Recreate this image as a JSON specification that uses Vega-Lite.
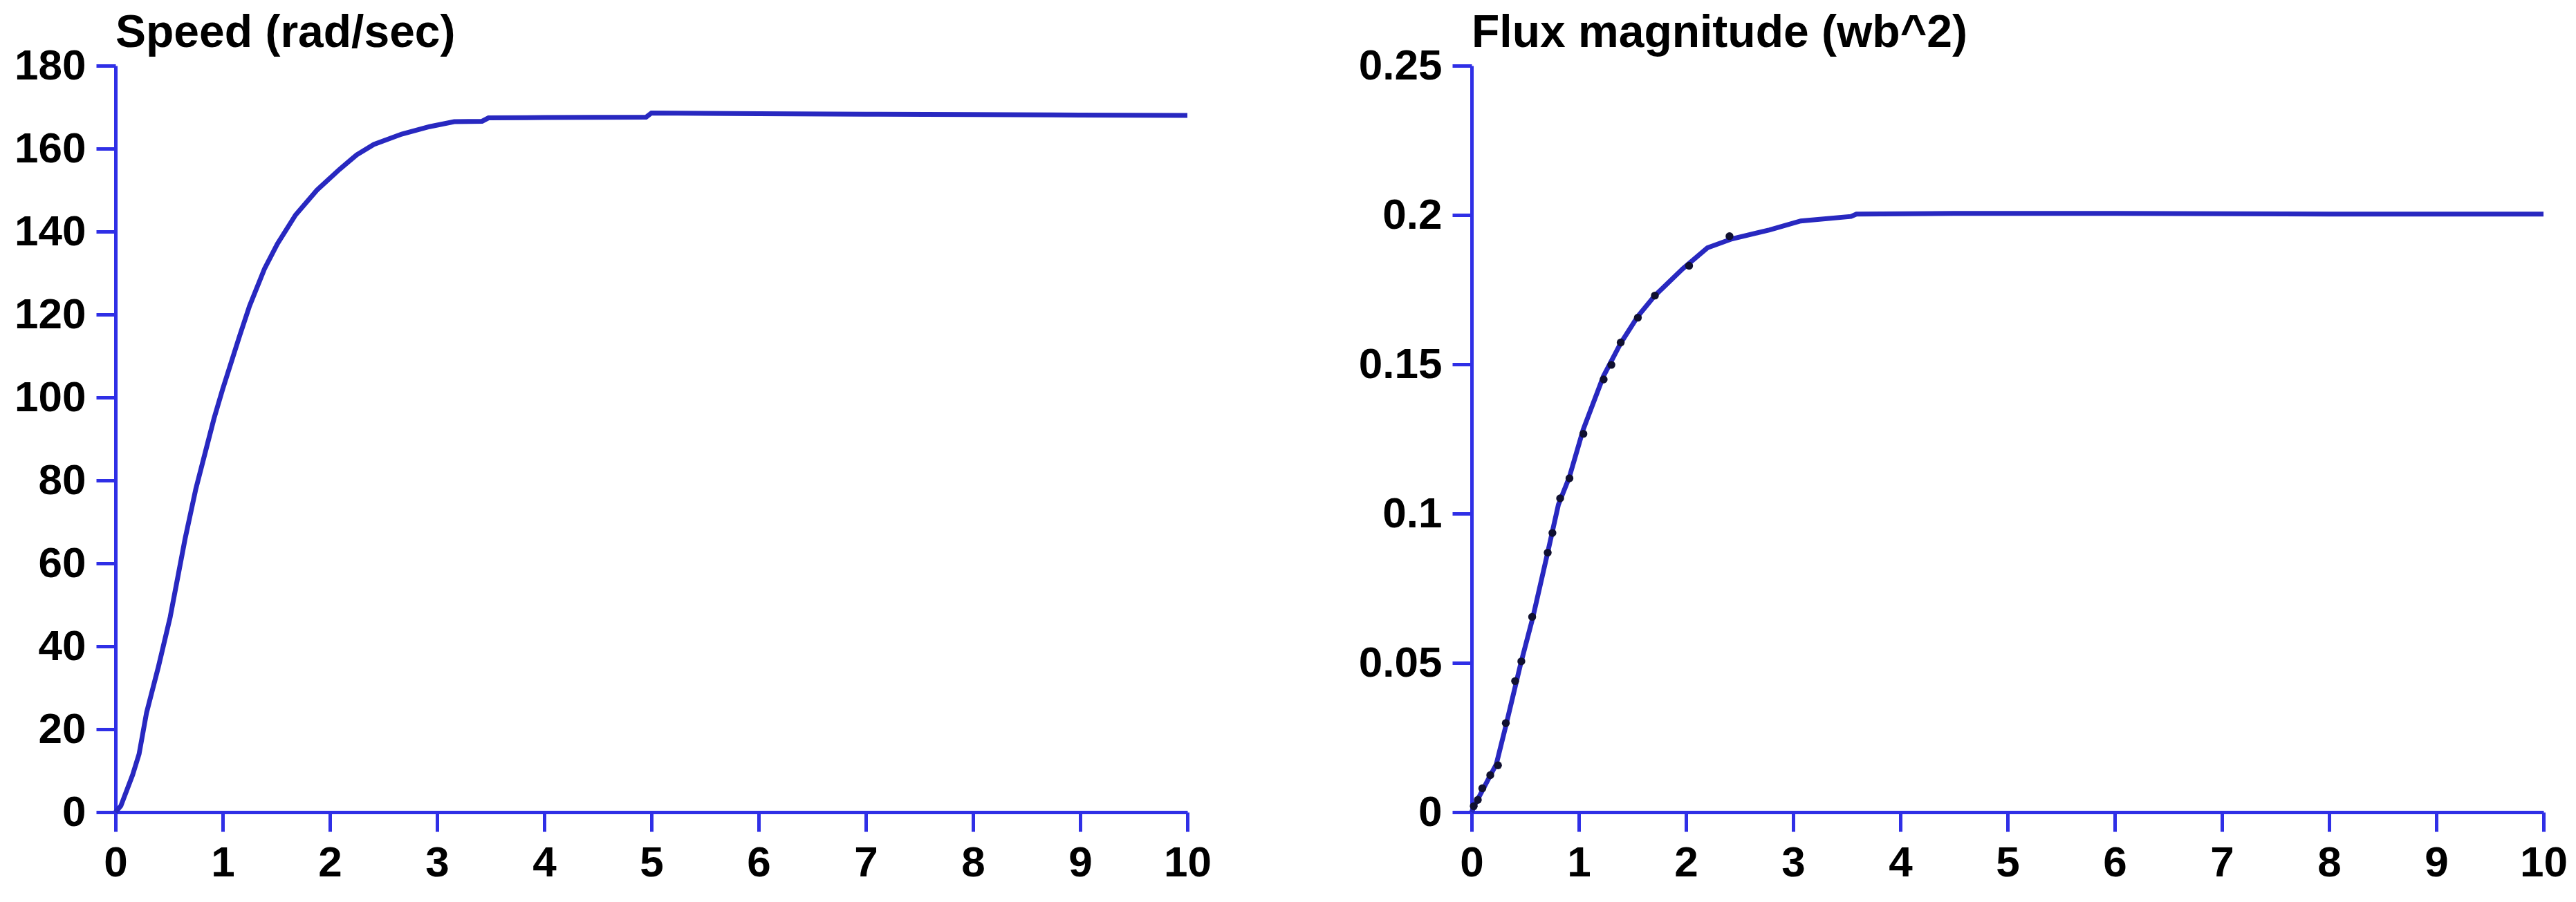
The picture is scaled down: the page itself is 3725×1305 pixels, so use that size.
{
  "$schema": "https://vega.github.io/schema/vega-lite/v6.json",
  "background": "white",
  "padding": {"left": 20, "top": 15, "right": 5, "bottom": 5},
  "bounds": "flush",
  "spacing": 411,
  "datasets": {
    "speed": [
      {"t": 0, "v": 0}, {"t": 0.05, "v": 1.5}, {"t": 0.16, "v": 9}, {"t": 0.22, "v": 14}, {"t": 0.29, "v": 24},
      {"t": 0.4, "v": 35}, {"t": 0.51, "v": 47}, {"t": 0.65, "v": 66}, {"t": 0.75, "v": 78}, {"t": 0.84, "v": 87},
      {"t": 0.92, "v": 95}, {"t": 1.0, "v": 102}, {"t": 1.16, "v": 115}, {"t": 1.25, "v": 122}, {"t": 1.39, "v": 131},
      {"t": 1.51, "v": 137}, {"t": 1.68, "v": 144}, {"t": 1.88, "v": 150}, {"t": 2.09, "v": 155}, {"t": 2.25, "v": 158.5},
      {"t": 2.41, "v": 161}, {"t": 2.67, "v": 163.5}, {"t": 2.93, "v": 165.3}, {"t": 3.16, "v": 166.5}, {"t": 3.42, "v": 166.6},
      {"t": 3.48, "v": 167.4}, {"t": 4.0, "v": 167.5}, {"t": 4.95, "v": 167.6}, {"t": 5.0, "v": 168.6}, {"t": 6.0, "v": 168.4},
      {"t": 7.0, "v": 168.3}, {"t": 8.0, "v": 168.2}, {"t": 9.0, "v": 168.1}, {"t": 10.0, "v": 168.0}
    ],
    "flux": [
      {"t": 0, "v": 0}, {"t": 0.03, "v": 0.0025}, {"t": 0.09, "v": 0.0065}, {"t": 0.17, "v": 0.012}, {"t": 0.23, "v": 0.016},
      {"t": 0.32, "v": 0.029}, {"t": 0.36, "v": 0.035}, {"t": 0.46, "v": 0.05}, {"t": 0.57, "v": 0.065}, {"t": 0.71, "v": 0.087},
      {"t": 0.81, "v": 0.103}, {"t": 0.91, "v": 0.112}, {"t": 1.04, "v": 0.128}, {"t": 1.23, "v": 0.146}, {"t": 1.39, "v": 0.157},
      {"t": 1.55, "v": 0.166}, {"t": 1.71, "v": 0.173}, {"t": 1.97, "v": 0.182}, {"t": 2.2, "v": 0.189}, {"t": 2.43, "v": 0.192},
      {"t": 2.78, "v": 0.195}, {"t": 3.07, "v": 0.198}, {"t": 3.54, "v": 0.1995}, {"t": 3.59, "v": 0.2003}, {"t": 4.5, "v": 0.2005},
      {"t": 6.0, "v": 0.2005}, {"t": 8.0, "v": 0.2003}, {"t": 10.0, "v": 0.2003}
    ],
    "fluxDots": [
      {"t": 0.02, "v": 0.002}, {"t": 0.058, "v": 0.0041}, {"t": 0.1, "v": 0.008}, {"t": 0.174, "v": 0.0124}, {"t": 0.246, "v": 0.0157},
      {"t": 0.319, "v": 0.0298}, {"t": 0.406, "v": 0.0439}, {"t": 0.464, "v": 0.0505}, {"t": 0.565, "v": 0.0654}, {"t": 0.71, "v": 0.0869},
      {"t": 0.754, "v": 0.0935}, {"t": 0.826, "v": 0.1051}, {"t": 0.913, "v": 0.1118}, {"t": 1.043, "v": 0.1267}, {"t": 1.232, "v": 0.1449},
      {"t": 1.304, "v": 0.1498}, {"t": 1.391, "v": 0.1573}, {"t": 1.551, "v": 0.1656}, {"t": 1.71, "v": 0.173}, {"t": 2.029, "v": 0.183},
      {"t": 2.406, "v": 0.1929}
    ]
  },
  "config": {
    "view": {"stroke": null},
    "axis": {
      "domainColor": "#2f2fe6", "domainWidth": 5, "tickColor": "#2f2fe6", "tickWidth": 5, "tickSize": 28,
      "labelFont": "Liberation Sans", "labelFontWeight": "bold", "labelFontSize": 62,
      "labelColor": "black", "labelPadding": 15, "grid": false, "labelFlush": false, "labelOverlap": false
    },
    "title": {"font": "Liberation Sans", "fontWeight": "bold", "fontSize": 66, "anchor": "start", "color": "black", "baseline": "alphabetic", "frame": "group"}
  },
  "hconcat": [
    {
      "width": 1550, "height": 1080,
      "title": {"text": "Speed (rad/sec)", "offset": -18},
      "data": {"name": "speed"},
      "mark": {"type": "line", "color": "#2828c0", "strokeWidth": 7},
      "encoding": {
        "x": {"field": "t", "type": "quantitative", "scale": {"domain": [0, 10], "nice": false},
              "axis": {"title": null, "values": [0, 1, 2, 3, 4, 5, 6, 7, 8, 9, 10], "labelAngle": 0, "format": "d"}},
        "y": {"field": "v", "type": "quantitative", "scale": {"domain": [0, 180], "nice": false},
              "axis": {"title": null, "values": [0, 20, 40, 60, 80, 100, 120, 140, 160, 180], "format": "d"}}
      }
    },
    {
      "width": 1550, "height": 1080,
      "title": {"text": "Flux magnitude (wb^2)", "offset": -18},
      "layer": [
        {
          "data": {"name": "flux"},
          "mark": {"type": "line", "color": "#2828c0", "strokeWidth": 7},
          "encoding": {
            "x": {"field": "t", "type": "quantitative", "scale": {"domain": [0, 10], "nice": false},
                  "axis": {"title": null, "values": [0, 1, 2, 3, 4, 5, 6, 7, 8, 9, 10], "labelAngle": 0, "format": "d"}},
            "y": {"field": "v", "type": "quantitative", "scale": {"domain": [0, 0.25], "nice": false},
                  "axis": {"title": null, "values": [0, 0.05, 0.1, 0.15, 0.2, 0.25], "format": ".2~f"}}
          }
        },
        {
          "data": {"name": "fluxDots"},
          "mark": {"type": "point", "filled": true, "color": "#101030", "size": 130, "opacity": 1},
          "encoding": {
            "x": {"field": "t", "type": "quantitative"},
            "y": {"field": "v", "type": "quantitative"}
          }
        }
      ]
    }
  ]
}
